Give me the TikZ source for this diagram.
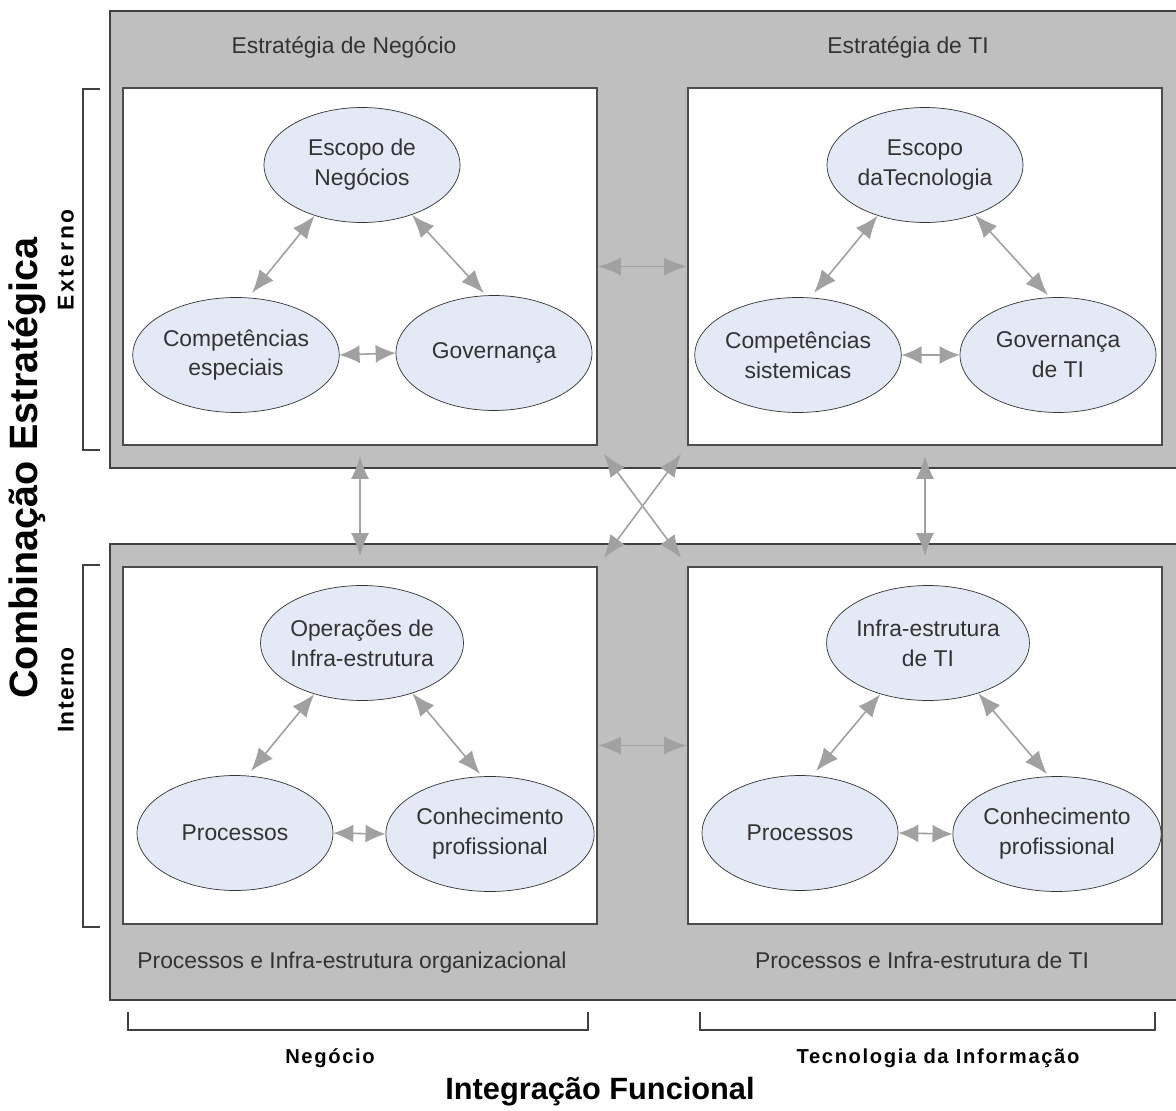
\documentclass[tikz,border=0pt]{standalone}
\usepackage{fontspec}
\setmainfont{Liberation Sans}
\usepackage{tikz}
\usetikzlibrary{shapes.geometric, arrows.meta}

\definecolor{elfill}{HTML}{E3E9F5}
\definecolor{txtgray}{HTML}{333333}

\begin{document}
\begin{tikzpicture}[x=0.02cm, y=-0.02cm,
        band/.style={draw=black!75, line width=1.1pt, fill=black!25, inner sep=0pt,
            minimum width=21.6cm, minimum height=9.14cm},
        box/.style={draw=black!70, line width=1.1pt, fill=white, inner sep=0pt,
            minimum width=9.48cm, minimum height=7.14cm},
        elem/.style={ellipse, draw=black!80, fill=elfill, inner sep=0pt,
            minimum width=3.92cm, minimum height=2.3cm, align=center, text=txtgray,
            font=\fontsize{13}{17}\selectfont},
        label/.style={text=txtgray, font=\fontsize{13}{16}\selectfont,
            text height=9.5pt, text depth=3pt},
        axis/.style={font=\fontsize{11.5}{13}\selectfont\bfseries\addfontfeature{LetterSpace=8}},
        link/.style={{Latex[length=0.46cm, width=0.36cm]}-{Latex[length=0.46cm, width=0.36cm]},
            draw=\adraw, line width=0.9pt},
        shortlink/.style={{Latex[length=0.4cm, width=0.36cm]}-{Latex[length=0.4cm, width=0.36cm]},
            draw=\adraw, line width=0.9pt},
        brace/.style={draw=black!75, line width=1pt}]
    \def\adraw{black!37}
    \def\gap{0.2cm}

    \useasboundingbox (0,0) rectangle (1176,1111);

    \node[band] (topband) at (650,239.5) {};
    \node[band] (botband) at (650,772) {};

    \node[box] (nbox) at (360,266.5) {};
    \node[box] (tbox) at (925,266.5) {};
    \node[box] (obox) at (360,745.5) {};
    \node[box] (ibox) at (925,745.5) {};

    \node[label] (estn) at (344,48) {Estratégia de Negócio};
    \node[label] (estt) at (908,48) {Estratégia de TI};
    \node[label] (proco) at (352,963) {Processos e Infra-estrutura organizacional};
    \node[label] (proci) at (922,963) {Processos e Infra-estrutura de TI};

    \draw[link] (nbox.east) -- (tbox.west);
    \draw[link] (obox.east) -- (ibox.west);
    \draw[link, shorten <=\gap, shorten >=\gap] (nbox.south) -- (obox.north);
    \draw[link, shorten <=\gap, shorten >=\gap] (tbox.south) -- (ibox.north);
    \draw[link, shorten <=\gap, shorten >=\gap] (nbox.south east) -- (ibox.north west);
    \draw[link, shorten <=\gap, shorten >=\gap] (tbox.south west) -- (obox.north east);

    \node[elem] (esc) at (362,165) {Escopo de\\Negócios};
    \node[elem] (comp) at (236,355) {Competências\\especiais};
    \node[elem] (gov) at (494,353) {Governança};

    \node[elem] (esct) at (925,165) {Escopo\\daTecnologia};
    \node[elem] (compt) at (798,355) {Competências\\sistemicas};
    \node[elem] (govt) at (1058,355) {Governança\\de TI};

    \node[elem] (ops) at (362,643) {Operações de\\Infra-estrutura};
    \node[elem] (proc) at (235,833) {Processos};
    \node[elem] (conh) at (490,834) {Conhecimento\\profissional};

    \node[elem] (infra) at (928,643) {Infra-estrutura\\de TI};
    \node[elem] (proct) at (800,833) {Processos};
    \node[elem] (conht) at (1057,834) {Conhecimento\\profissional};

    \foreach \a/\b/\c in {esc/comp/gov, esct/compt/govt, ops/proc/conh, infra/proct/conht} {
        \draw[link, shorten >=0.12cm] (\a.227) -- (\b.78);
        \draw[link, shorten >=0.06cm] (\a.315) -- (\c.98);
        \draw[shortlink] (\b.east) -- (\c.west);
    }

    \draw[brace] (100,89) -- (83,89) -- (83,450) -- (100,450);
    \draw[brace] (100,565) -- (83,565) -- (83,927) -- (100,927);
    \draw[brace] (128,1012) -- (128,1030) -- (588,1030) -- (588,1012);
    \draw[brace] (700,1012) -- (700,1030) -- (1155,1030) -- (1155,1012);

    \node[axis, rotate=90, font=\fontsize{13}{15}\selectfont\bfseries\addfontfeature{LetterSpace=12}] (ext) at (66,260) {Externo};
    \node[axis, rotate=90, font=\fontsize{13}{15}\selectfont\bfseries\addfontfeature{LetterSpace=6}] (int) at (66,690) {Interno};
    \node[axis] (neg) at (330,1058) {Negócio};
    \node[axis] (tec) at (938,1058) {Tecnologia da Informação};
    \node[font=\fontsize{17.5}{20}\selectfont\bfseries] (intf) at (600,1092) {Integração Funcional};
    \node[font=\fontsize{22.5}{26}\selectfont\bfseries, rotate=90] (comb) at (27,468) {Combinação Estratégica};
\end{tikzpicture}
\end{document}
